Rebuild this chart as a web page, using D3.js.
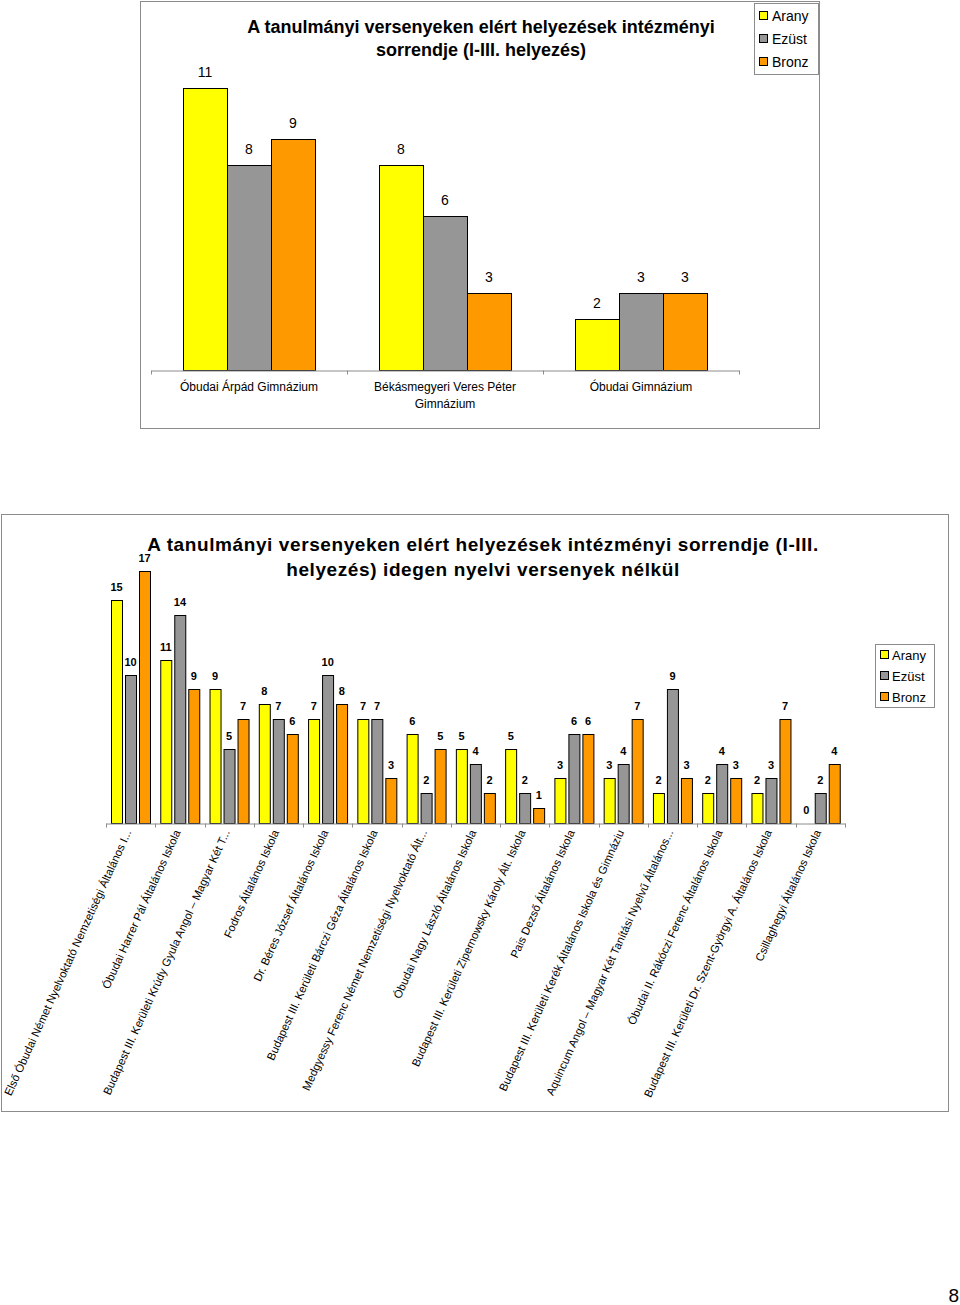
<!DOCTYPE html>
<html><head><meta charset="utf-8">
<script src="https://cdn.jsdelivr.net/npm/d3@7"></script>
<style>
body{margin:0;background:#fff;}
svg{display:block;font-family:"Liberation Sans",Arial,sans-serif;}
</style></head><body>
<svg id="c" width="960" height="1305"></svg>
<script>
const series = ["Arany","Ezüst","Bronz"];
const colors = ["#FFFF00","#969696","#FF9900"];

// Chart 1
const cats1 = ["Óbudai Árpád Gimnázium","Békásmegyeri Veres Péter\nGimnázium","Óbudai Gimnázium"];
const arany1 = [11, 8, 2];
const ezust1 = [8, 6, 3];
const bronz1 = [9, 3, 3];
const title1 = ["A tanulmányi versenyeken elért helyezések intézményi","sorrendje  (I-III. helyezés)"];

// Chart 2
const cats2 = [
 "Első Óbudai Német Nyelvoktató Nemzetiségi Általános I...",
 "Óbudai Harrer Pál Általános Iskola",
 "Budapest III. Kerületi Krúdy Gyula Angol – Magyar Két T...",
 "Fodros Általános Iskola",
 "Dr. Béres József Általános Iskola",
 "Budapest III. Kerületi Bárczi Géza Általános Iskola",
 "Medgyessy Ferenc Német Nemzetiségi Nyelvoktató Ált...",
 "Óbudai Nagy László Általános Iskola",
 "Budapest III. Kerületi Zipernowsky Károly Ált. Iskola",
 "Pais Dezső Általános Iskola",
 "Budapest III. Kerületi Kerék Általános  Iskola  és Gimnáziu",
 "Aquincum Angol – Magyar Két Tanítási Nyelvű Általános...",
 "Óbudai II. Rákóczi Ferenc Általános Iskola",
 "Budapest III. Kerületi Dr. Szent-Györgyi A. Általános Iskola",
 "Csillaghegyi Általános Iskola"];
const arany2 = [15, 11, 9, 8, 7, 7, 6, 5, 5, 3, 3, 2, 2, 2, 0];
const ezust2 = [10, 14, 5, 7, 10, 7, 2, 4, 2, 6, 4, 9, 4, 3, 2];
const bronz2 = [17, 9, 7, 6, 8, 3, 5, 2, 1, 6, 7, 3, 3, 7, 4];
const title2 = ["A tanulmányi versenyeken elért helyezések intézményi sorrendje  (I-III.","helyezés) idegen nyelvi versenyek nélkül"];

const svg = d3.select("#c");

function drawChart(o){
  const g = svg.append("g");
  g.append("rect").attr("x",o.frame[0]+0.5).attr("y",o.frame[1]+0.5)
   .attr("width",o.frame[2]).attr("height",o.frame[3])
   .attr("fill","#fff").attr("stroke","#8c8c8c").attr("stroke-width",1);
  const data = o.cats.map((c,i)=>({cat:c, vals:[o.a[i],o.e[i],o.b[i]]}));
  const x = d3.scaleBand().domain(o.cats).range(o.xr).padding(0);
  const xs = d3.scaleBand().domain(series).range([0,x.bandwidth()])
     .paddingInner(o.pin).paddingOuter(o.pout);
  const y = d3.scaleLinear().domain(o.yd).range(o.yr);
  const grp = g.selectAll("g.grp").data(data).join("g")
    .attr("transform",d=>`translate(${x(d.cat)},0)`);
  grp.selectAll("rect").data(d=>d.vals.map((v,k)=>({v,k}))).join("rect")
    .attr("x",d=>Math.round(xs(series[d.k]))+0.5)
    .attr("y",d=>Math.round(y(d.v))+0.5)
    .attr("width",Math.round(xs.bandwidth()))
    .attr("height",d=>Math.max(0,Math.round(y(0))-Math.round(y(d.v))))
    .attr("fill",d=>colors[d.k]).attr("stroke","#000").attr("stroke-width",1)
    .attr("display",d=>d.v===0?"none":null);
  grp.selectAll("text.v").data(d=>d.vals.map((v,k)=>({v,k}))).join("text")
    .attr("class","v")
    .attr("x",d=>xs(series[d.k])+xs.bandwidth()/2)
    .attr("y",d=>y(d.v)-o.lblOff)
    .attr("text-anchor","middle").attr("font-size",o.lblSize)
    .attr("font-weight",o.lblWeight).attr("fill","#000").text(d=>d.v);
  const ax = g.append("g").attr("transform",`translate(0,${Math.round(y(0))+0.5})`)
    .call(d3.axisBottom(x).tickSize(0).tickFormat(""));
  ax.select(".domain").attr("stroke","#8c8c8c");
  const bounds = o.cats.map(c=>x(c)).concat([o.xr[1]]);
  ax.selectAll("line.tb").data(bounds).join("line").attr("class","tb")
    .attr("x1",d=>Math.round(d)+0.5).attr("x2",d=>Math.round(d)+0.5)
    .attr("y1",0).attr("y2",4).attr("stroke","#8c8c8c");
  o.title.forEach((t,i)=>{
    g.append("text").attr("x",o.titleX).attr("y",o.titleY+i*o.titleLH)
      .attr("text-anchor","middle").attr("font-size",o.titleSize)
      .attr("font-weight","bold").attr("fill","#000")
      .attr("letter-spacing",o.titleLS).text(t);
  });
  const L = o.legend;
  g.append("rect").attr("x",L.x+0.5).attr("y",L.y+0.5).attr("width",L.w).attr("height",L.h)
    .attr("fill","#fff").attr("stroke","#8c8c8c");
  series.forEach((s,i)=>{
    g.append("rect").attr("x",L.x+L.mx+0.5).attr("y",L.y+L.top+i*L.step-4.5)
      .attr("width",8).attr("height",8).attr("fill",colors[i]).attr("stroke","#000");
    g.append("text").attr("x",L.x+L.tx).attr("y",L.y+L.top+i*L.step+4.5)
      .attr("font-size",L.fs).attr("fill","#000").text(s);
  });
  return {g,x,y};
}

const c1 = drawChart({
  frame:[140,1,679,427], cats:cats1, a:arany1, e:ezust1, b:bronz1,
  xr:[151,739], pin:0, pout:0.727, yd:[0,12], yr:[370,370-12*25.64],
  lblOff:11, lblSize:14, lblWeight:"normal",
  title:title1, titleX:481, titleY:33, titleLH:23, titleSize:18, titleLS:0,
  legend:{x:754,y:3,w:64,h:71,mx:5,tx:18,top:13,step:23,fs:14}
});
c1.g.selectAll("text.cl").data(cats1).join("text").attr("class","cl")
  .attr("x",d=>c1.x(d)+c1.x.bandwidth()/2).attr("y",391)
  .attr("text-anchor","middle").attr("font-size",12).attr("fill","#000")
  .each(function(d){
    const lines=d.split("\n");
    d3.select(this).selectAll("tspan").data(lines).join("tspan")
      .attr("x",c1.x(d)+c1.x.bandwidth()/2).attr("dy",(l,i)=>i?17:0).text(l=>l);
  });

const c2 = drawChart({
  frame:[1,514,947,597], cats:cats2, a:arany2, e:ezust2, b:bronz2,
  xr:[106,845], pin:0.214, pout:0.367, yd:[0,18], yr:[823,823-18*14.85],
  lblOff:9, lblSize:11, lblWeight:"bold",
  title:title2, titleX:483, titleY:551, titleLH:25, titleSize:19, titleLS:0.6,
  legend:{x:875,y:644,w:59,h:63,mx:5,tx:17,top:11,step:21,fs:13}
});
c2.g.selectAll("text.cl").data(cats2).join("text").attr("class","cl")
  .attr("transform",d=>`translate(${c2.x(d)+c2.x.bandwidth()/2+1},832) rotate(-65.5)`)
  .attr("text-anchor","end").attr("font-size",11.3).attr("fill","#000").text(d=>d);

svg.append("text").attr("x",959).attr("y",1302).attr("text-anchor","end")
  .attr("font-size",19).attr("fill","#000").text("8");
</script>
</body></html>
